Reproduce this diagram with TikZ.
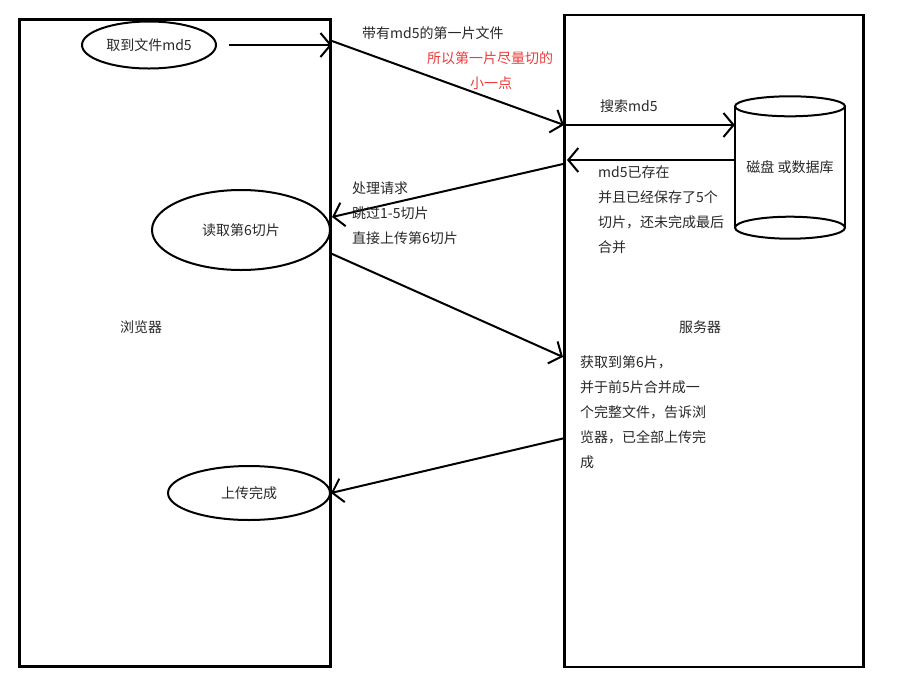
\documentclass[tikz,border=0pt]{standalone}
\usepackage{fontspec}
\setmainfont{Noto Sans CJK SC}
\usetikzlibrary{shapes.geometric,arrows.meta}
\definecolor{inkgray}{RGB}{40,40,40}
\definecolor{notered}{RGB}{235,60,60}
\tikzset{lane/.style={draw, line width=2.6pt, inner sep=0pt},
oval/.style={ellipse, draw, line width=2pt, inner sep=0pt},
flow/.style={-{Straight Barb[length=10pt,width=24pt]}, line width=2pt},
%one-line notes sit on their baseline, longer ones hang from their top
note/.style={anchor=base west, inner sep=0pt},
block/.style={anchor=north west, align=left, inner sep=0pt}}

\begin{document}
\begin{tikzpicture}[x=1pt, y=-1pt, font=\fontsize{14}{25}\selectfont, text=inkgray]
\useasboundingbox (0,0) rectangle (914,673);

% the two lanes
\node[lane, minimum width=311pt, minimum height=647pt] (browser) at (175,343) {};
\node[lane, minimum width=299pt, minimum height=652pt] (server) at (714,341) {};
\node (browserlbl) at (141,327) {浏览器};
\node (serverlbl) at (700,327) {服务器};

% browser steps
\node[oval, minimum width=134pt, minimum height=47pt] (getmd5) at (149,45) {取到文件md5};
\node[oval, minimum width=178pt, minimum height=80pt] (read6) at (241,230) {读取第6切片};
\node[oval, minimum width=162pt, minimum height=54pt] (done) at (249,493) {上传完成};

% disk or database
\node[minimum width=110pt, minimum height=121pt, inner sep=0pt] (db) at (790,167) {磁盘 或数据库};
\draw[line width=2pt] (db.north west) -- (db.south west) (db.north east) -- (db.south east);
\draw[line width=2pt] (db.north) ellipse (55pt and 10pt) (db.south) ellipse (55pt and 11pt);

\coordinate (b1) at (332,41);
\coordinate (s1) at (564,125);
\coordinate (d2) at (735,160);
\coordinate (s2) at (567,160);
\coordinate (s3) at (563,164);
\coordinate (b2) at (332,217);
\coordinate (b3) at (330,253);
\coordinate (s4) at (563,357);
\coordinate (s5) at (565,438);

\draw[flow, shorten <=12pt] (getmd5.east) -- (getmd5 -| browser.east);
\draw[flow] (b1) -- (s1);
\draw[flow] (s1) -- (s1 -| db.west);
\draw[flow] (d2) -- (s2);
\draw[flow] (s3) -- (b2);
\draw[flow] (b3) -- (s4);
\draw[flow] (s5) -- (done.east);

% labels
\node[note] (sendlbl) at (362,38) {带有md5的第一片文件};
\node[note, text=notered] (hintlbl) at (427,63) {所以第一片尽量切的};
\node[note, text=notered] (hintlbl2) at (470,88) {小一点};
\node[note] (searchlbl) at (600,111) {搜索md5};
\node[block] (existlbl) at (598,166) {md5已存在\\并且已经保存了5个\\切片，还未完成最后\\合并};
\node[block] (skiplbl) at (352,182) {处理请求\\跳过1-5切片\\直接上传第6切片};
\node[block] (mergelbl) at (580,355) {获取到第6片，\\并于前5片合并成一\\个完整文件，告诉浏\\览器，已全部上传完\\成};

\end{tikzpicture}
\end{document}
